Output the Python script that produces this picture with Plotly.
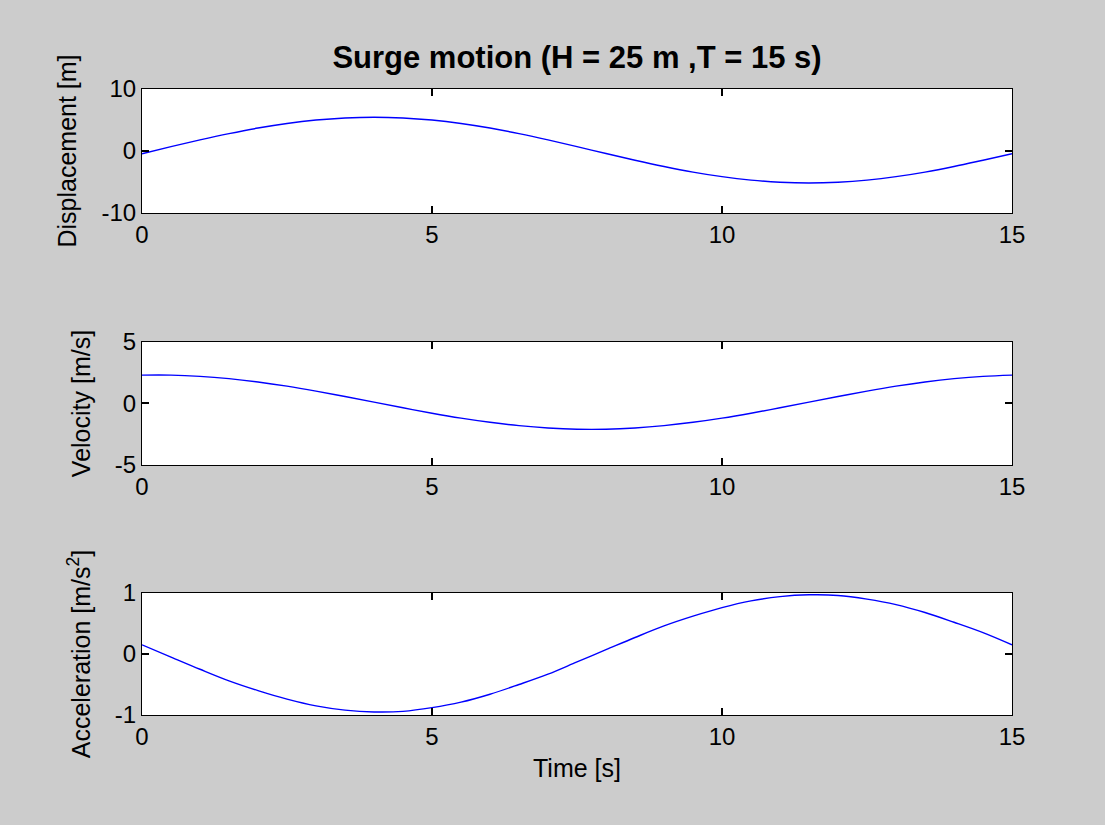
import plotly.graph_objects as go
from plotly.subplots import make_subplots

time_s = [0, 0.5, 1, 1.5, 2, 2.5, 3, 3.5, 4, 4.5, 5, 5.5, 6, 6.5, 7, 7.5,
          8, 8.5, 9, 9.5, 10, 10.5, 11, 11.5, 12, 12.5, 13, 13.5, 14, 14.5, 15]
displacement = [-0.45, 0.70, 1.79, 2.80, 3.70, 4.44, 4.99, 5.33, 5.45, 5.33, 4.99,
                4.44, 3.70, 2.80, 1.79, 0.70, -0.40, -1.49, -2.50, -3.40, -4.14,
                -4.69, -5.03, -5.15, -5.03, -4.69, -4.14, -3.40, -2.50, -1.49, -0.45]
velocity = [2.31, 2.31, 2.21, 2.02, 1.75, 1.41, 1.01, 0.57, 0.11, -0.35, -0.79,
            -1.19, -1.53, -1.80, -1.99, -2.09, -2.09, -1.99, -1.80, -1.53, -1.19,
            -0.79, -0.35, 0.11, 0.57, 1.01, 1.41, 1.75, 2.02, 2.21, 2.31]
acceleration = [0.15, -0.05, -0.25, -0.44, -0.60, -0.74, -0.85, -0.92, -0.95, -0.94,
                -0.88, -0.79, -0.66, -0.50, -0.33, -0.13, 0.07, 0.27, 0.46, 0.62,
                0.76, 0.87, 0.94, 0.97, 0.96, 0.90, 0.81, 0.68, 0.52, 0.35, 0.15]

x_ticks = [0, 5, 10, 15]
y_ranges = [[-10, 10], [-5, 5], [-1, 1]]
y_ticks = [[-10, 0, 10], [-5, 0, 5], [-1, 0, 1]]
y_tick_labels = [["-10", "0", "10"], ["-5", "0", "5"], ["-1", "0", "1"]]
y_titles = ["Displacement [m]", "Velocity [m/s]", "Acceleration [m/s<sup>2</sup>]"]
title_text = "Surge motion (H = 25 m ,T = 15 s)"

FONT = "Liberation Sans, Arial, sans-serif"
TICK_SIZE = 24
LABEL_SIZE = 25

fig = make_subplots(rows=3, cols=1)
series = [displacement, velocity, acceleration]
for i, s in enumerate(series):
    fig.add_trace(go.Scatter(x=time_s, y=s, mode="lines", line_shape="spline",
                             line=dict(color="#0000ff", width=1.4),
                             showlegend=False, hoverinfo="skip"),
                  row=i + 1, col=1)

domains = [[0.8019, 1.0], [0.3994, 0.5958], [0.0, 0.1949]]
for i in range(3):
    ax = dict(showline=True, linecolor="black", linewidth=1, mirror="ticks",
              ticks="inside", ticklen=7, tickcolor="black", tickwidth=1.5, showgrid=False,
              zeroline=False, tickfont=dict(family=FONT, size=TICK_SIZE, color="black"))
    fig.update_xaxes(range=[0, 15], tickvals=x_ticks, **ax, row=i + 1, col=1)
    fig.update_yaxes(range=y_ranges[i], tickvals=y_ticks[i], ticktext=y_tick_labels[i],
                     domain=domains[i],
                     title=dict(text=y_titles[i],
                                font=dict(family=FONT, size=LABEL_SIZE, color="black"),
                                standoff=17),
                     **ax, row=i + 1, col=1)

fig.update_xaxes(title=dict(text="Time [s]",
                            font=dict(family=FONT, size=LABEL_SIZE, color="black"),
                            standoff=10), row=3, col=1)

fig.update_layout(
    width=1105, height=825,
    margin=dict(l=142, r=93, t=89, b=110),
    paper_bgcolor="#cccccc", plot_bgcolor="white",
    title=dict(text="<b>" + title_text + "</b>", x=577 / 1105, xanchor="center",
               y=1 - 57 / 825, yanchor="middle",
               font=dict(family=FONT, size=31, color="black")),
)

fig.write_html("out.html")
